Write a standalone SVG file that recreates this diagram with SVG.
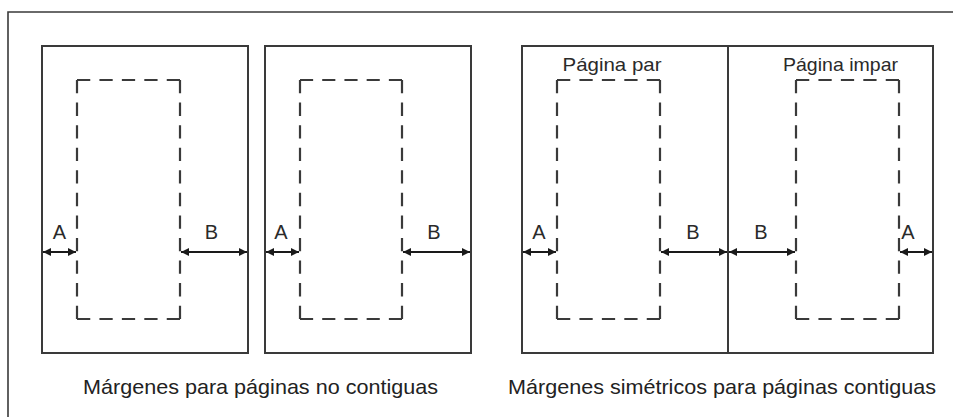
<svg xmlns="http://www.w3.org/2000/svg" width="953" height="417" viewBox="0 0 953 417">
<style>
.frame{fill:none;stroke:#3a3a3a;stroke-width:1.6}
.page{fill:#fff;stroke:#3a3a3a;stroke-width:2}
.dash{fill:none;stroke:#3a3a3a;stroke-width:2.2;stroke-dasharray:13 9}
.arr{fill:none;stroke:#1a1a1a;stroke-width:2;marker-start:url(#ah);marker-end:url(#ah)}
.lbl{font-family:"Liberation Sans",Arial,sans-serif;font-size:20px;fill:#2a2a2a;text-anchor:middle}
.plbl{font-family:"Liberation Sans",Arial,sans-serif;font-size:19px;fill:#2a2a2a;text-anchor:middle}
.cap{font-family:"Liberation Sans",Arial,sans-serif;font-size:21px;fill:#222}
</style>
<defs>
<marker id="ah" viewBox="0 0 8 8" refX="8" refY="4" markerWidth="8" markerHeight="8" markerUnits="userSpaceOnUse" orient="auto-start-reverse">
<path d="M0,0 L8,4 L0,8 z" fill="#1a1a1a"/>
</marker>
</defs>
<rect width="953" height="417" fill="#fff"/>
<g id="frame">
<path class="frame" d="M8,430 L8,12 L960,12"/>
</g>
<g id="page1">
<rect class="page" x="42" y="46" width="206" height="307"/>
<line class="dash" x1="77" y1="80" x2="180" y2="80" pathLength="101"/>
<line class="dash" x1="180" y1="80" x2="180" y2="319" pathLength="233"/>
<line class="dash" x1="180" y1="319" x2="77" y2="319" pathLength="101"/>
<line class="dash" x1="77" y1="319" x2="77" y2="80" pathLength="233"/>
<text class="lbl" x="59.5" y="239">A</text>
<text class="lbl" x="211.5" y="239">B</text>
</g>
<g id="page2">
<rect class="page" x="265" y="46" width="206" height="307"/>
<line class="dash" x1="300" y1="80" x2="402" y2="80" pathLength="101"/>
<line class="dash" x1="402" y1="80" x2="402" y2="319" pathLength="233"/>
<line class="dash" x1="402" y1="319" x2="300" y2="319" pathLength="101"/>
<line class="dash" x1="300" y1="319" x2="300" y2="80" pathLength="233"/>
<text class="lbl" x="281" y="239">A</text>
<text class="lbl" x="434" y="239">B</text>
</g>
<g id="page3">
<rect class="page" x="522" y="46" width="206" height="307"/>
<line class="dash" x1="557" y1="80" x2="660" y2="80" pathLength="101"/>
<line class="dash" x1="660" y1="80" x2="660" y2="319" pathLength="233"/>
<line class="dash" x1="660" y1="319" x2="557" y2="319" pathLength="101"/>
<line class="dash" x1="557" y1="319" x2="557" y2="80" pathLength="233"/>
<text class="lbl" x="539" y="239">A</text>
<text class="lbl" x="693" y="239">B</text>
<text class="plbl" x="612" y="71" textLength="99" lengthAdjust="spacingAndGlyphs">Página par</text>
</g>
<g id="page4">
<rect class="page" x="728" y="46" width="205" height="307"/>
<line class="dash" x1="796" y1="80" x2="899" y2="80" pathLength="101"/>
<line class="dash" x1="899" y1="80" x2="899" y2="319" pathLength="233"/>
<line class="dash" x1="899" y1="319" x2="796" y2="319" pathLength="101"/>
<line class="dash" x1="796" y1="319" x2="796" y2="80" pathLength="233"/>
<text class="lbl" x="761" y="239">B</text>
<text class="lbl" x="908" y="239">A</text>
<text class="plbl" x="840.5" y="71" textLength="115" lengthAdjust="spacingAndGlyphs">Página impar</text>
</g>
<g id="connectors">
<line class="arr" x1="43" y1="252" x2="76" y2="252"/>
<line class="arr" x1="181" y1="252" x2="247" y2="252"/>
<line class="arr" x1="266" y1="252" x2="299" y2="252"/>
<line class="arr" x1="403" y1="252" x2="470" y2="252"/>
<line class="arr" x1="523" y1="252" x2="556" y2="252"/>
<line class="arr" x1="661" y1="252" x2="727" y2="252"/>
<line class="arr" x1="729" y1="252" x2="795" y2="252"/>
<line class="arr" x1="900" y1="252" x2="932" y2="252"/>
</g>
<g id="captions">
<text class="cap" x="83" y="394" textLength="355" lengthAdjust="spacingAndGlyphs">Márgenes para páginas no contiguas</text>
<text class="cap" x="508" y="394" textLength="428" lengthAdjust="spacingAndGlyphs">Márgenes simétricos para páginas contiguas</text>
</g>
</svg>
